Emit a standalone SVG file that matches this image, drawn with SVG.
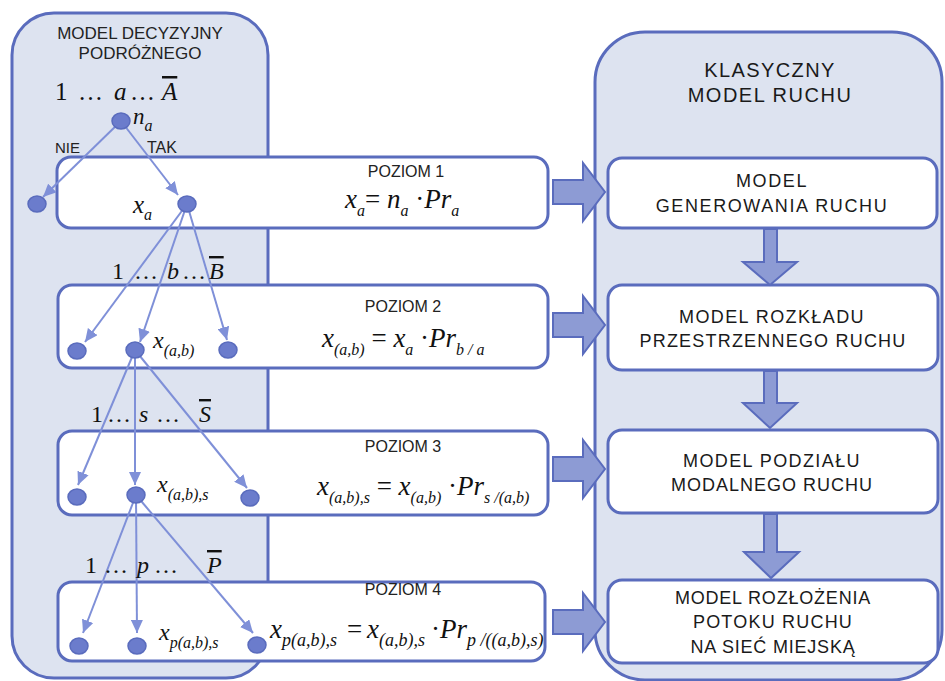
<svg xmlns="http://www.w3.org/2000/svg" width="945" height="681" viewBox="0 0 945 681">
<defs>
<style>
.cont{fill:#dde3f0;stroke:#5a6cbd;stroke-width:3}
.box{fill:#ffffff;stroke:#5a6cbd;stroke-width:3}
.conn{stroke:#7f90d8;stroke-width:2;fill:none;marker-end:url(#ah)}
.node{fill:#6b7ccc;stroke:#5a6cbd;stroke-width:1.5}
.blk{fill:#8d9bd4;stroke:#5a6cbd;stroke-width:2}
.lbl{font-family:"Liberation Sans",Arial,sans-serif;fill:#222}
.rt{font-family:"Liberation Sans",Arial,sans-serif;fill:#1a1a1a;text-anchor:middle}
.m{font-family:"Liberation Serif","Times New Roman",serif;font-style:italic;fill:#111}
.s{font-size:16px}
.s18{font-size:18px}
.n{font-style:normal}
.ov{text-decoration:overline}
</style>
<marker id="ah" markerUnits="userSpaceOnUse" markerWidth="14" markerHeight="12" refX="13" refY="6" orient="auto">
<path d="M0,0 L13,6 L0,12 Z" fill="#7f90d8"/>
</marker>
</defs>

<g id="left-container">
<rect class="cont" x="12" y="13" width="256" height="665" rx="42"/>
<text class="lbl" x="140" y="39" font-size="17" text-anchor="middle">MODEL DECYZYJNY</text>
<text class="lbl" x="140" y="59" font-size="17" text-anchor="middle">PODRÓŻNEGO</text>
</g>

<g id="right-container">
<rect class="cont" x="595" y="32" width="347" height="648" rx="50"/>
<text class="rt" x="770" y="77" font-size="20" letter-spacing="1.4">KLASYCZNY</text>
<text class="rt" x="770" y="102" font-size="20" letter-spacing="1.5">MODEL RUCHU</text>
</g>

<g id="poziom1">
<rect class="box" x="57" y="157" width="491" height="71" rx="14"/>
<text class="lbl" x="406" y="177" font-size="16" text-anchor="middle">POZIOM 1</text>
<text class="m" x="345" y="208" font-size="27">x<tspan class="s" dy="8">a</tspan><tspan class="n" dy="-8">= </tspan>n<tspan class="s" dy="8">a</tspan><tspan class="n" dy="-8"> ·</tspan>Pr<tspan class="s" dy="8">a</tspan></text>
</g>
<g id="poziom2">
<rect class="box" x="58" y="285" width="490" height="83" rx="14"/>
<text class="lbl" x="403" y="312" font-size="16" text-anchor="middle">POZIOM 2</text>
<text class="m" x="322" y="347" font-size="27">x<tspan class="s" dy="8">(a,b)</tspan><tspan class="n" dy="-8"> = </tspan>x<tspan class="s" dy="8">a</tspan><tspan class="n" dy="-8"> ·</tspan>Pr<tspan class="s" dy="8">b / a</tspan></text>
</g>
<g id="poziom3">
<rect class="box" x="58" y="431" width="490" height="84" rx="14"/>
<text class="lbl" x="403" y="452" font-size="16" text-anchor="middle">POZIOM 3</text>
<text class="m" x="317" y="495" font-size="27">x<tspan class="s" dy="8">(a,b),s</tspan><tspan class="n" dy="-8"> = </tspan>x<tspan class="s" dy="8">(a,b)</tspan><tspan class="n" dy="-8"> ·</tspan>Pr<tspan class="s" dy="8">s /(a,b)</tspan></text>
</g>
<g id="poziom4">
<rect class="box" x="58" y="582" width="487" height="79" rx="14"/>
<text class="lbl" x="403" y="595" font-size="16" text-anchor="middle">POZIOM 4</text>
<text class="m" y="638" font-size="27"><tspan x="270">x</tspan><tspan class="s18" dy="8">p(a,b),s</tspan><tspan class="n" x="347" dy="-8">=</tspan><tspan x="367">x</tspan><tspan class="s18" dy="8">(a,b),s</tspan><tspan class="n" x="431" dy="-8">·</tspan><tspan>Pr</tspan><tspan class="s18" dy="8">p /((a,b),s)</tspan></text>
</g>

<g id="model-generowania">
<rect class="box" x="608" y="158" width="329" height="70" rx="14"/>
<text class="rt" x="772" y="187" font-size="18" letter-spacing="1.6">MODEL</text>
<text class="rt" x="772" y="212" font-size="18" letter-spacing="1.6">GENEROWANIA RUCHU</text>
</g>
<g id="model-rozkladu">
<rect class="box" x="608" y="285" width="330" height="85" rx="14"/>
<text class="rt" x="772" y="323" font-size="18" letter-spacing="1.4">MODEL  ROZKŁADU</text>
<text class="rt" x="773" y="347" font-size="18" letter-spacing="1.2">PRZESTRZENNEGO  RUCHU</text>
</g>
<g id="model-podzialu">
<rect class="box" x="608" y="430" width="330" height="83" rx="14"/>
<text class="rt" x="772" y="467" font-size="18" letter-spacing="1.4">MODEL  PODZIAŁU</text>
<text class="rt" x="772" y="491" font-size="18" letter-spacing="1">MODALNEGO RUCHU</text>
</g>
<g id="model-rozlozenia">
<rect class="box" x="608" y="580" width="330" height="83" rx="14"/>
<text class="rt" x="773" y="604" font-size="18" letter-spacing="0.8">MODEL ROZŁOŻENIA</text>
<text class="rt" x="773" y="628" font-size="18" letter-spacing="1.2">POTOKU RUCHU</text>
<text class="rt" x="773" y="653" font-size="18" letter-spacing="0.8">NA SIEĆ MIEJSKĄ</text>
</g>

<g id="connectors">
<path class="blk" d="M553,180 L583,180 L583,163 L605,192 L583,221 L583,204 L553,204 Z"/>
<path class="blk" d="M553,313 L583,313 L583,296 L605,325 L583,354 L583,337 L553,337 Z"/>
<path class="blk" d="M553,457 L583,457 L583,440 L605,469 L583,498 L583,481 L553,481 Z"/>
<path class="blk" d="M553,610 L583,610 L583,593 L605,622 L583,651 L583,634 L553,634 Z"/>
<path class="blk" d="M764,229 L777,229 L777,262 L797,262 L770,285 L743,262 L764,262 Z"/>
<path class="blk" d="M764,371 L777,371 L777,403 L797,403 L770,428 L743,403 L764,403 Z"/>
<path class="blk" d="M764,514 L777,514 L777,552 L799,552 L771,578 L744,552 L764,552 Z"/>
<line class="conn" x1="121" y1="121" x2="43" y2="197"/>
<line class="conn" x1="121" y1="121" x2="178" y2="195"/>
<line class="conn" x1="187" y1="204" x2="85" y2="342"/>
<line class="conn" x1="187" y1="204" x2="140" y2="342"/>
<line class="conn" x1="187" y1="204" x2="227" y2="340"/>
<line class="conn" x1="135" y1="350" x2="78" y2="485"/>
<line class="conn" x1="135" y1="350" x2="135" y2="485"/>
<line class="conn" x1="135" y1="350" x2="247" y2="488"/>
<line class="conn" x1="136" y1="495" x2="83" y2="633"/>
<line class="conn" x1="136" y1="495" x2="137" y2="633"/>
<line class="conn" x1="136" y1="495" x2="253" y2="633"/>
</g>

<g id="labels">
<text class="m" y="100" font-size="25"><tspan class="n" x="55">1</tspan><tspan class="n" x="78">…</tspan><tspan x="114">a</tspan><tspan class="n" x="130">…</tspan><tspan class="ov" x="162">A</tspan></text>
<text class="lbl" x="55" y="153" font-size="15">NIE</text>
<text class="lbl" x="147" y="153" font-size="16">TAK</text>
<text class="m" y="279" font-size="24"><tspan class="n" x="112">1</tspan><tspan class="n" x="134">…</tspan><tspan x="167">b</tspan><tspan class="n" x="182">…</tspan><tspan class="ov" x="209">B</tspan></text>
<text class="m" y="422" font-size="24"><tspan class="n" x="91">1</tspan><tspan class="n" x="107">…</tspan><tspan x="139">s</tspan><tspan class="n" x="156">…</tspan><tspan class="ov" x="199">S</tspan></text>
<text class="m" y="573" font-size="24"><tspan class="n" x="85">1</tspan><tspan class="n" x="104">…</tspan><tspan x="137">p</tspan><tspan class="n" x="154">…</tspan><tspan class="ov" x="207">P</tspan></text>
<text class="m" x="133" y="124" font-size="23">n<tspan class="s" dy="7">a</tspan></text>
<text class="m" x="133" y="213" font-size="25">x<tspan class="s" dy="7">a</tspan></text>
<text class="m" x="153" y="348" font-size="24">x<tspan class="s" dy="8">(a,b)</tspan></text>
<text class="m" x="157" y="492" font-size="24">x<tspan class="s" dy="8">(a,b),s</tspan></text>
<text class="m" x="159" y="640" font-size="24">x<tspan class="s" dy="8">p(a,b),s</tspan></text>
</g>

<g id="node-na"><ellipse class="node" cx="121" cy="121" rx="9" ry="8"/></g>
<g id="node-nie"><ellipse class="node" cx="37" cy="204" rx="9" ry="8"/></g>
<g id="node-xa"><ellipse class="node" cx="187" cy="204" rx="9" ry="8"/></g>
<g id="node-b1"><ellipse class="node" cx="77" cy="351" rx="9" ry="8"/></g>
<g id="node-b2"><ellipse class="node" cx="135" cy="350" rx="9" ry="8"/></g>
<g id="node-b3"><ellipse class="node" cx="228" cy="350" rx="9" ry="8"/></g>
<g id="node-s1"><ellipse class="node" cx="77" cy="497" rx="9" ry="8"/></g>
<g id="node-s2"><ellipse class="node" cx="136" cy="495" rx="9" ry="8"/></g>
<g id="node-s3"><ellipse class="node" cx="250" cy="498" rx="9" ry="8"/></g>
<g id="node-p1"><ellipse class="node" cx="79" cy="646" rx="9" ry="8"/></g>
<g id="node-p2"><ellipse class="node" cx="137" cy="646" rx="9" ry="8"/></g>
<g id="node-p3"><ellipse class="node" cx="257" cy="645" rx="9" ry="8"/></g>
</svg>
